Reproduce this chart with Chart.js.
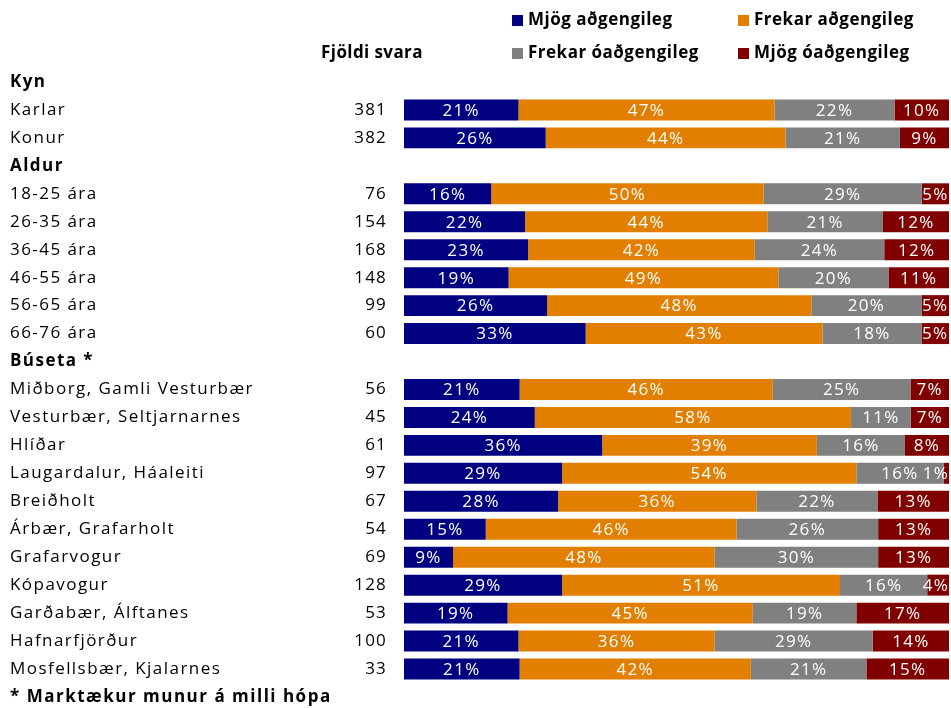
<!DOCTYPE html>
<html>
<head>
<meta charset="utf-8">
<script src="https://cdn.jsdelivr.net/npm/chart.js@4.4.0/dist/chart.umd.min.js"></script>
<style>
  html, body { margin: 0; padding: 0; background: #fff; }
  #wrap { width: 951px; height: 708px; }
</style>
</head>
<body>
<div id="wrap"><canvas id="chart" width="951" height="708"></canvas></div>
<script>
// rows, header rows have no data
const rowLabels = ['Kyn', 'Karlar', 'Konur', 'Aldur', '18-25 ára', '26-35 ára', '36-45 ára', '46-55 ára',
  '56-65 ára', '66-76 ára', 'Búseta *', 'Miðborg, Gamli Vesturbær', 'Vesturbær, Seltjarnarnes', 'Hlíðar',
  'Laugardalur, Háaleiti', 'Breiðholt', 'Árbær, Grafarholt', 'Grafarvogur', 'Kópavogur',
  'Garðabær, Álftanes', 'Hafnarfjörður', 'Mosfellsbær, Kjalarnes'];
const headerRows = ['Kyn', 'Aldur', 'Búseta *'];
const counts = [null, 381, 382, null, 76, 154, 168, 148, 99, 60, null, 56, 45, 61, 97, 67, 54, 69, 128, 53, 100, 33];

const seriesNames = ['Mjög aðgengileg', 'Frekar aðgengileg', 'Frekar óaðgengileg', 'Mjög óaðgengileg'];
const seriesColors = ['#000080', '#E37F00', '#808080', '#800000'];
const mjogAdgengileg = [null, 21, 26, null, 16, 22, 23, 19, 26, 33, null, 21, 24, 36, 29, 28, 15, 9, 29, 19, 21, 21];
const frekarAdgengileg = [null, 47, 44, null, 50, 44, 42, 49, 48, 43, null, 46, 58, 39, 54, 36, 46, 48, 51, 45, 36, 42];
const frekarOadgengileg = [null, 22, 21, null, 29, 21, 24, 20, 20, 18, null, 25, 11, 16, 16, 22, 26, 30, 16, 19, 29, 21];
const mjogOadgengileg = [null, 10, 9, null, 5, 12, 12, 11, 5, 5, null, 7, 7, 8, 1, 13, 13, 13, 4, 17, 14, 15];

const seriesValues = [mjogAdgengileg, frekarAdgengileg, frekarOadgengileg, mjogOadgengileg];
const FONT = '"Open Sans", sans-serif';
const SPACING = '1.45px';

// rounded shares don't always add to 100, scale each row to full width
const rowTotals = rowLabels.map((_, i) => seriesValues.reduce((s, arr) => s + (arr[i] || 0), 0));

const datasets = seriesValues.map((arr, k) => ({
  label: seriesNames[k],
  data: arr.map((v, i) => v == null ? null : v / rowTotals[i] * 100),
  rawValues: arr,
  backgroundColor: seriesColors[k],
  borderWidth: 0,
  barPercentage: 0.75,
  categoryPercentage: 1
}));

const spacingPlugin = {
  id: 'spacing',
  beforeUpdate(chart) { chart.ctx.letterSpacing = SPACING; },
  beforeDraw(chart) { chart.ctx.letterSpacing = SPACING; }
};

const segmentLabels = {
  id: 'segmentLabels',
  afterDatasetsDraw(chart) {
    const ctx = chart.ctx;
    ctx.save();
    ctx.letterSpacing = '1.3px';
    ctx.font = '17px ' + FONT;
    ctx.fillStyle = '#fff';
    ctx.textAlign = 'center';
    ctx.textBaseline = 'middle';
    chart.data.datasets.forEach((ds, k) => {
      const meta = chart.getDatasetMeta(k);
      meta.data.forEach((bar, i) => {
        const v = ds.rawValues[i];
        if (v == null) return;
        const txt = v + '%';
        const w = ctx.measureText(txt).width;
        let cx = (bar.x + bar.base) / 2;
        if (cx + w / 2 > chart.chartArea.right) cx = chart.chartArea.right - w / 2;
        ctx.fillText(txt, cx, bar.y + 1);
      });
    });
    ctx.restore();
  }
};

const extras = {
  id: 'extras',
  afterDraw(chart) {
    const ctx = chart.ctx;
    const y = chart.scales.y;
    ctx.save();
    ctx.fillStyle = '#000';
    ctx.textBaseline = 'middle';

    // counts column
    ctx.letterSpacing = '1.2px';
    ctx.font = '17px ' + FONT;
    ctx.textAlign = 'right';
    counts.forEach((c, i) => {
      if (c == null) return;
      ctx.fillText(String(c), 387, y.getPixelForValue(i));
    });

    ctx.letterSpacing = '0.4px';
    ctx.font = 'bold 17px ' + FONT;
    ctx.textAlign = 'center';
    ctx.fillText('Fjöldi svara', 372, 53);

    // legend, two rows
    const legendPos = [[512, 20], [738, 20], [512, 53], [738, 53]];
    ctx.letterSpacing = '0.5px';
    ctx.textAlign = 'left';
    seriesNames.forEach((name, k) => {
      const [lx, ly] = legendPos[k];
      ctx.fillStyle = seriesColors[k];
      ctx.fillRect(lx, ly - 5, 11, 11);
      ctx.fillStyle = '#000';
      ctx.fillText(name, lx + 16, ly);
    });

    ctx.letterSpacing = '1.5px';
    ctx.fillText('* Marktækur munur á milli hópa', 10, 697);
    ctx.restore();
  }
};

new Chart(document.getElementById('chart'), {
  type: 'bar',
  data: { labels: rowLabels, datasets: datasets },
  options: {
    indexAxis: 'y',
    responsive: false,
    animation: false,
    layout: { padding: { left: 10, top: 68, bottom: 25, right: 2 } },
    plugins: {
      legend: { display: false },
      tooltip: { enabled: false }
    },
    scales: {
      x: { stacked: true, min: 0, max: 100, display: false },
      y: {
        stacked: true,
        grid: { display: false },
        border: { display: false },
        afterFit(scale) { scale.width = 394; },
        ticks: {
          autoSkip: false,
          crossAlign: 'far',
          padding: 0,
          color: '#000',
          font: (c) => ({
            family: FONT,
            size: 17,
            weight: headerRows.includes(rowLabels[c.index]) ? 'bold' : 'normal'
          })
        }
      }
    }
  },
  plugins: [spacingPlugin, segmentLabels, extras]
});
</script>
</body>
</html>
